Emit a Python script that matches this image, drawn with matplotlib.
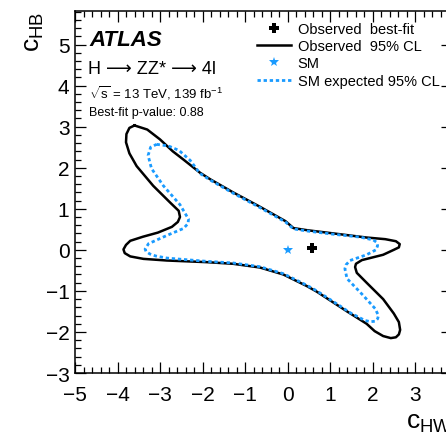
import matplotlib
matplotlib.use("Agg")
import matplotlib.pyplot as plt
from matplotlib.ticker import MultipleLocator

plt.rcParams['font.family'] = ['Liberation Sans', 'DejaVu Sans']
plt.rcParams['mathtext.fontset'] = 'custom'
plt.rcParams['mathtext.rm'] = 'Liberation Sans'
plt.rcParams['mathtext.it'] = 'Liberation Sans:italic'
plt.rcParams['mathtext.bf'] = 'Liberation Sans:bold'

# Observed 95% CL contour (c_HW, c_HB)
obs_x = [-3.60, -3.30, -3.00, -2.70, -2.45, -2.06, -1.82, -1.28, -0.65, -0.05,
         0.14, 0.45, 1.08, 1.86, 2.30, 2.55, 2.64, 2.62, 2.50, 2.25, 1.75, 1.61,
         1.59, 1.63, 1.86, 2.25, 2.50, 2.62, 2.65, 2.62, 2.55, 2.43, 2.25, 2.05,
         1.86, 1.40, 0.69, 0.45, -0.10, -0.65, -1.28, -1.90, -2.84, -3.39, -3.70,
         -3.83, -3.86, -3.80, -3.70, -3.40, -3.05, -2.72, -2.58, -2.53, -2.56,
         -2.76, -3.16, -3.55, -3.72, -3.80, -3.79, -3.72]
obs_y = [3.03, 2.93, 2.69, 2.40, 2.20, 1.88, 1.72, 1.40, 1.05, 0.70,
         0.53, 0.48, 0.40, 0.30, 0.26, 0.21, 0.14, 0.06, 0.00, -0.12, -0.25, -0.34,
         -0.42, -0.56, -0.80, -1.20, -1.55, -1.76, -1.95, -2.06, -2.13, -2.15, -2.10,
         -1.98, -1.80, -1.50, -1.02, -0.88, -0.60, -0.43, -0.34, -0.30, -0.26, -0.22,
         -0.16, -0.08, 0.01, 0.12, 0.22, 0.32, 0.42, 0.56, 0.68, 0.80, 0.95,
         1.15, 1.56, 2.04, 2.35, 2.62, 2.82, 2.97]

# SM expected 95% CL contour
exp_x = [-3.08, -2.80, -2.55, -2.29, -2.06, -1.82, -1.28, -0.65, -0.05, 0.14,
         0.45, 1.08, 1.71, 2.02, 2.10, 2.12, 2.08, 1.86, 1.47, 1.38, 1.35, 1.40,
         1.78, 2.06, 2.14, 2.12, 2.06, 1.95, 1.82, 1.47, 1.24, 0.69, 0.45, -0.10,
         -0.65, -1.28, -1.90, -2.50, -2.84, -3.10, -3.24, -3.33, -3.35, -3.27,
         -2.84, -2.45, -2.34, -2.33, -2.53, -2.92, -3.20, -3.28, -3.22]
exp_y = [2.57, 2.53, 2.42, 2.18, 1.86, 1.70, 1.38, 1.03, 0.68, 0.51,
         0.46, 0.38, 0.31, 0.24, 0.18, 0.10, 0.00, -0.12, -0.26, -0.36, -0.46, -0.70,
         -1.11, -1.43, -1.60, -1.68, -1.74, -1.75, -1.72, -1.53, -1.37, -1.00, -0.86, -0.58,
         -0.41, -0.32, -0.28, -0.23, -0.20, -0.15, -0.10, -0.04, 0.02, 0.15,
         0.35, 0.52, 0.64, 0.75, 1.10, 1.56, 1.98, 2.30, 2.50]

bestfit = (0.57, 0.04)
sm_point = (0.0, 0.0)

blue = '#1a9bff'

fig = plt.figure(figsize=(4.46, 4.35), dpi=100)
ax = fig.add_axes([75/446, 61/435, 377/446, 362.5/435])

ax.plot(obs_x + obs_x[:1], obs_y + obs_y[:1], color='black', lw=1.8,
        solid_joinstyle='round', label='Observed  95% CL')
ax.plot(exp_x + exp_x[:1], exp_y + exp_y[:1], color=blue, lw=2.0,
        linestyle=(0, (1.2, 1.0)), label='SM expected 95% CL')
ax.plot([bestfit[0]], [bestfit[1]], marker='P', color='black', ms=7,
        markeredgewidth=0, ls='none', label='Observed  best-fit')
ax.plot([sm_point[0]], [sm_point[1]], marker='*', color=blue, ms=7,
        markeredgewidth=0, ls='none', label='SM')

ax.set_xlim(-5, 3.87)
ax.set_ylim(-3, 5.83)

ax.xaxis.set_major_locator(MultipleLocator(1))
ax.xaxis.set_minor_locator(MultipleLocator(0.2))
ax.yaxis.set_major_locator(MultipleLocator(1))
ax.yaxis.set_minor_locator(MultipleLocator(0.2))
ax.tick_params(which='both', direction='in', top=True, right=True, width=0.9)
ax.tick_params(which='major', length=8, labelsize=15)
ax.tick_params(axis='x', which='major', pad=9)
ax.tick_params(axis='y', which='major', pad=4)
ax.tick_params(which='minor', length=4.5)
for s in ax.spines.values():
    s.set_linewidth(1.1)

ax.set_ylabel(r'$\mathrm{c}_{\mathrm{HB}}$', fontsize=19, loc='top', labelpad=0)
ax.set_xlabel(r'$\mathrm{c}_{\mathrm{HW}}$', fontsize=19, loc='right', labelpad=4)


def fx(px):
    return (px - 75) / 377


def fy(py):
    return (374 - py) / 362.5


ax.text(fx(89), fy(40), 'ATLAS', transform=ax.transAxes, fontsize=16,
        fontweight='bold', fontstyle='italic', va='center', ha='left')
ax.text(fx(88), fy(70), 'H ⟶ ZZ* ⟶ 4l', transform=ax.transAxes,
        fontsize=13, va='center', ha='left',
        family=['Liberation Sans', 'DejaVu Sans'])
ax.text(fx(89), fy(93), r'$\sqrt{\mathrm{s}}$ = 13 TeV, 139 fb$^{\mathrm{-1}}$',
        transform=ax.transAxes, fontsize=9.5, va='center', ha='left')
ax.text(fx(89), fy(113), 'Best-fit p-value: 0.88', transform=ax.transAxes,
        fontsize=9, va='center', ha='left')

handles, labels = ax.get_legend_handles_labels()
order = [2, 0, 3, 1]
leg = ax.legend([handles[i] for i in order], [labels[i] for i in order],
                loc='upper left', bbox_to_anchor=(fx(257), fy(23)),
                frameon=False, fontsize=10.5, handlelength=2.3,
                handletextpad=0.5, labelspacing=0.22, borderpad=0,
                borderaxespad=0)

fig.savefig('out.png', dpi=100)
